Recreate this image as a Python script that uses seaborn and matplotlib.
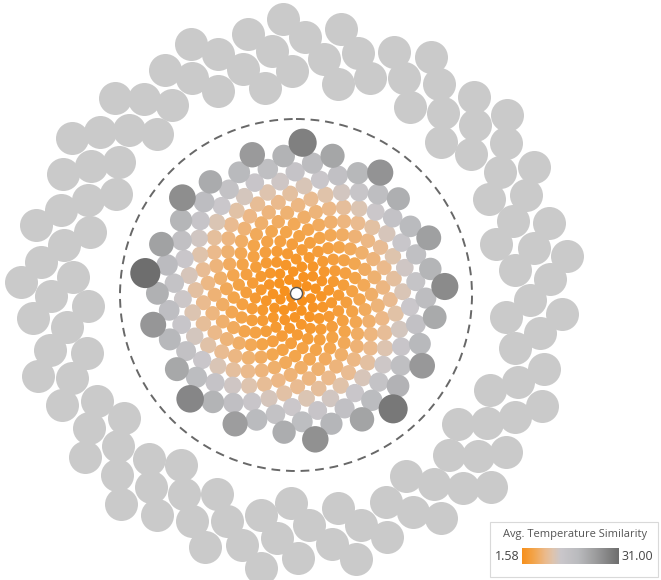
import numpy as np
import pandas as pd
import matplotlib
matplotlib.use("Agg")
import matplotlib.pyplot as plt
from matplotlib.colors import LinearSegmentedColormap
from matplotlib.patches import Circle, Rectangle
import seaborn as sns

sns.set_theme(style="white")
plt.rcParams["font.family"] = ["Open Sans", "DejaVu Sans"]

W, H, DPI = 661, 580, 100
CX, CY = 296, 293
GOLDEN = np.pi * (3 - np.sqrt(5))

# Avg. temperature similarity of the matched cities (lower = more similar)
deep_orange = [1.58, 1.63, 1.69, 1.72, 1.78, 1.81, 1.86, 1.90, 1.93, 1.97, 2.01,
               2.04, 2.08, 2.11, 2.15, 2.18, 2.22, 2.25, 2.28, 2.32, 2.35, 2.39,
               2.42, 2.45, 2.49, 2.52, 2.55, 2.59, 2.62, 2.66, 2.69, 2.72, 2.76,
               2.79, 2.82, 2.86, 2.89, 2.92, 2.96, 2.99, 3.02, 3.06, 3.09, 3.12,
               3.16, 3.19, 3.22, 3.26, 3.29, 3.32, 3.36, 3.39, 3.42, 3.46, 3.49,
               3.52, 3.56, 3.59, 3.62, 3.66, 3.69, 3.72, 3.76, 3.79, 3.82, 3.86,
               3.89, 3.92, 3.96, 3.99, 4.02, 4.06, 4.09, 4.12, 4.16, 4.19, 4.22,
               4.26, 4.29, 4.32, 4.36, 4.39, 4.42, 4.46, 4.49, 4.52, 4.56, 4.59,
               4.62, 4.65, 4.68, 4.71, 4.74, 4.77, 4.80, 4.83, 4.86, 4.89, 4.92,
               4.94, 4.96, 4.98, 5.00, 5.02, 5.04, 5.06, 5.08, 5.10, 5.12, 5.14]
light_orange = [5.18, 5.22, 5.26, 5.31, 5.35, 5.39, 5.44, 5.48, 5.52, 5.57,
                5.61, 5.65, 5.70, 5.74, 5.78, 5.83, 5.87, 5.91, 5.96, 6.00,
                6.04, 6.09, 6.13, 6.17, 6.22, 6.26, 6.30, 6.35, 6.39, 6.43,
                6.48, 6.52, 6.56, 6.61, 6.65, 6.69, 6.74, 6.78, 6.82, 6.87,
                6.91, 6.95, 7.00, 7.04, 7.08, 7.13, 7.17, 7.21, 7.26, 7.30,
                7.34, 7.39, 7.43, 7.47, 7.52, 7.56, 7.60, 7.65, 7.69, 7.73,
                7.78, 7.82, 7.86, 7.91, 7.95, 7.99, 8.04, 8.08, 8.12, 8.17,
                8.21, 8.25, 8.30, 8.34, 8.38, 8.43, 8.47, 8.51, 8.56, 8.60,
                8.64, 8.69, 8.73, 8.77, 8.82, 8.86, 8.90, 8.95, 8.99, 9.03,
                9.08, 9.12, 9.16, 9.21, 9.25]
beige = [9.31, 9.39, 9.47, 9.55, 9.63, 9.71, 9.79, 9.87, 9.95, 10.03,
         10.11, 10.19, 10.27, 10.35, 10.43, 10.51, 10.60, 10.68, 10.76, 10.84,
         10.93, 11.01, 11.09, 11.18, 11.26, 11.35, 11.43, 11.52, 11.60, 11.69,
         11.77, 11.86, 11.95, 12.03, 12.12, 12.21, 12.30, 12.38, 12.47, 12.56,
         12.65, 12.74, 12.83, 12.92, 13.01, 13.10, 13.19, 13.28, 13.38, 13.47,
         13.56, 13.65, 13.75, 13.84, 13.94, 14.03, 14.13, 14.22, 14.32, 14.41]
light_grey = [14.52, 14.66, 14.80, 14.94, 15.08, 15.22, 15.36, 15.50, 15.64, 15.78,
              15.92, 16.06, 16.20, 16.34, 16.48, 16.62, 16.77, 16.91, 17.05, 17.20,
              17.34, 17.49, 17.63, 17.78, 17.92, 18.07, 18.22, 18.36, 18.51, 18.66,
              18.81, 18.96, 19.11, 19.26, 19.41, 19.56, 19.72, 19.87, 20.02, 20.18]
dark_grey = [20.41, 20.72, 21.04, 21.36, 21.69, 22.02, 22.36, 22.70, 23.05, 23.40,
             23.76, 24.13, 24.50, 24.88, 25.27, 25.67, 26.08, 26.61, 27.30, 28.20,
             29.50, 31.00]

# cities outside the similarity threshold (drawn in flat grey)
n_outside = 118

VMIN, VMAX = 1.58, 31.00
cmap = LinearSegmentedColormap.from_list("orange_grey", [
    (0.00, "#f7901c"), (0.12, "#f3a54c"), (0.24, "#ebba8c"),
    (0.32, "#dec4ae"), (0.40, "#cac7cb"), (0.58, "#babbbe"),
    (0.75, "#9e9e9f"), (1.00, "#6e6e6e")])


def bubble_radius(v):
    return 4.5 + 0.34 * v


def px_to_s(r):
    # scatter size (pt^2) for a radius in pixels
    return (2 * r * 72 / DPI) ** 2


vals = np.sort(np.array(deep_orange + light_orange + beige + light_grey + dark_grey))
rad = bubble_radius(vals)
cum = np.cumsum(rad ** 2) - rad ** 2 / 2
dist = np.sqrt(cum)
dist *= 152 / dist[-1]
theta = np.arange(len(vals)) * GOLDEN
inner = pd.DataFrame({"x": CX + dist * np.cos(theta),
                      "y": CY + dist * np.sin(theta),
                      "similarity": vals,
                      "s": px_to_s(rad)})

R0, R1 = 205, 277
step = (R1 ** 2 - R0 ** 2) / n_outside
k = np.arange(n_outside) + R0 ** 2 / step
outer = pd.DataFrame({"x": CX + np.sqrt((k + 0.5) * step) * np.cos(k * GOLDEN),
                      "y": CY + np.sqrt((k + 0.5) * step) * np.sin(k * GOLDEN)})

fig = plt.figure(figsize=(W / DPI, H / DPI), dpi=DPI)
ax = fig.add_axes([0, 0, 1, 1])
ax.set_xlim(0, W)
ax.set_ylim(H, 0)
ax.set_aspect("equal")
ax.axis("off")

sns.scatterplot(data=outer, x="x", y="y", color="#cacaca", s=px_to_s(16.5),
                linewidth=0, legend=False, ax=ax)
sns.scatterplot(data=inner, x="x", y="y", hue="similarity", palette=cmap,
                hue_norm=(VMIN, VMAX), s=inner["s"].values, linewidth=0,
                legend=False, ax=ax)

ax.add_patch(Circle((CX, CY + 2), 176, fill=False, ec="#686868", lw=1.4,
                    ls=(0, (4.5, 3))))
ax.scatter([CX], [CY], s=px_to_s(6), color="white", edgecolor="#555555",
           linewidth=1, zorder=5)

# legend box
box = Rectangle((490 / W, 1 - 577 / H), 168 / W, 55 / H,
                transform=fig.transFigure, fc="white", ec="#d9d9d9", lw=0.8,
                zorder=1)
fig.add_artist(box)
fig.text(575 / W, 1 - 535 / H, "Avg. Temperature Similarity", ha="center",
         va="center", fontsize=8, color="#555555", zorder=3)
cax = fig.add_axes([522 / W, 1 - 564 / H, 97 / W, 16 / H])
cax.set_zorder(2)
cax.imshow(np.linspace(0, 1, 256)[None, :], aspect="auto", cmap=cmap)
cax.axis("off")
fig.text(520 / W, 1 - 556 / H, "1.58", ha="right", va="center",
         fontsize=9, color="#444444", zorder=3)
fig.text(622 / W, 1 - 556 / H, "31.00", ha="left", va="center",
         fontsize=9, color="#444444", zorder=3)

fig.savefig("out.png", dpi=DPI)
